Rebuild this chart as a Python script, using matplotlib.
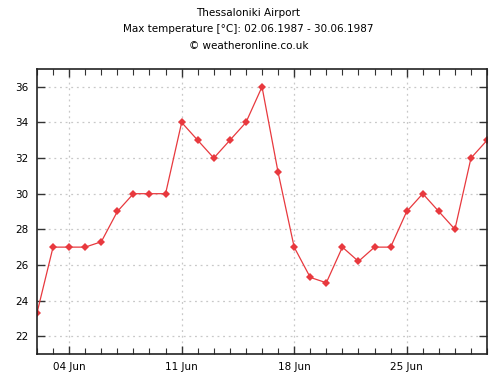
import matplotlib.pyplot as plt
from matplotlib.ticker import MultipleLocator, FixedLocator

# data
days = list(range(2, 31))
temps = [23.3, 27, 27, 27, 27.3, 29, 30, 30, 30, 34, 33, 32, 33, 34, 36,
         31.2, 27, 25.3, 25, 27, 26.2, 27, 27, 29, 30, 29, 28, 32, 33]
tick_days = [4, 11, 18, 25]
tick_labels = ['04 Jun', '11 Jun', '18 Jun', '25 Jun']

fig = plt.figure(figsize=(4.97, 3.76), dpi=100)
ax = fig.add_axes([0.0744, 0.0585, 0.9056, 0.758])

ax.plot(days, temps, color='#e8393e', linewidth=0.9, marker='D',
        markersize=4, markeredgewidth=0)

ax.set_xlim(2, 30)
ax.set_ylim(21, 37)
ax.xaxis.set_major_locator(FixedLocator(tick_days))
ax.set_xticklabels(tick_labels)
ax.xaxis.set_minor_locator(MultipleLocator(1))
ax.yaxis.set_major_locator(MultipleLocator(2))

# dotted grid
ax.grid(True, which='major', color='#c8c8c8', linestyle=(0, (1.5, 3)),
        linewidth=0.9)
ax.tick_params(which='both', direction='in', top=True, right=True,
               labelsize=7.5, color='#333333', pad=6)
ax.tick_params(which='major', length=6, width=1)
ax.tick_params(which='minor', length=4, width=0.8)
for s in ax.spines.values():
    s.set_linewidth(1.2)
    s.set_color('#222222')

fig.text(0.5, 0.98, 'Thessaloniki Airport', ha='center', va='top', fontsize=7.5)
fig.text(0.5, 0.935, 'Max temperature [°C]: 02.06.1987 - 30.06.1987', ha='center',
         va='top', fontsize=7.5)
fig.text(0.5, 0.89, '© weatheronline.co.uk', ha='center', va='top', fontsize=7.5)

fig.savefig('out.png', dpi=100)
